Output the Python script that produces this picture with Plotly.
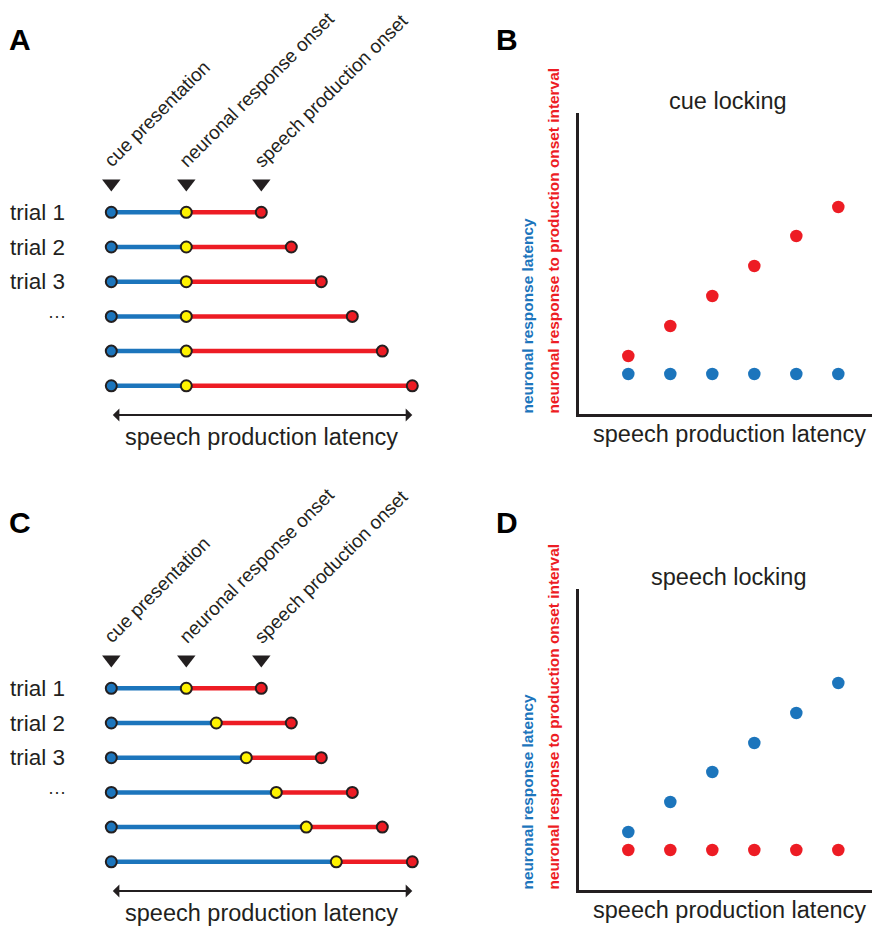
import plotly.graph_objects as go

# ---------------- data ----------------
trials = [1, 2, 3, 4, 5, 6]
trial_labels = ["trial 1", "trial 2", "trial 3", "..."]
cue_onset = [0, 0, 0, 0, 0, 0]
speech_onset = [150, 180, 210, 241, 271, 301]
neuron_onset_A = [75, 75, 75, 75, 75, 75]              # cue locking
neuron_onset_C = [75, 105, 135, 165, 195, 225]         # speech locking
event_names = ["cue presentation", "neuronal response onset", "speech production onset"]

latency_x = [150, 180, 210, 240, 270, 300]
B_latency = [4.0, 4.0, 4.0, 4.0, 4.0, 4.0]
B_interval = [5.8, 8.8, 11.8, 14.8, 17.8, 20.7]
D_latency = [5.8, 8.8, 11.8, 14.7, 17.7, 20.7]
D_interval = [4.0, 4.0, 4.0, 4.0, 4.0, 4.0]

# ---------------- style ----------------
W, H = 872, 928
BLUE = "#1c75bc"
RED = "#ed1c24"
YEL = "#fff200"
INK = "#231f20"
FONT = "Liberation Sans, Arial, Helvetica, sans-serif"


def fx(p):
    return p / W


def fy(p):
    return 1 - p / H


X0 = 111.3          # pixel of cue onset
ROW0 = 212.3        # pixel of trial 1
ROWSTEP = 34.7


def trow(pix):
    return 1 + (pix - ROW0) / ROWSTEP


fig = go.Figure()

panels = [("x", "y", neuron_onset_A, 0), ("x2", "y2", neuron_onset_C, 476)]
annotations = []

for xr, yr, neuron, off in panels:
    bx, by, rx, ry = [], [], [], []
    for t, c, n, s in zip(trials, cue_onset, neuron, speech_onset):
        bx += [c, n, None]
        by += [t, t, None]
        rx += [n, s, None]
        ry += [t, t, None]
    fig.add_trace(go.Scatter(x=bx, y=by, mode="lines", line=dict(color=BLUE, width=4.5),
                             xaxis=xr, yaxis=yr, hoverinfo="skip"))
    fig.add_trace(go.Scatter(x=rx, y=ry, mode="lines", line=dict(color=RED, width=4.5),
                             xaxis=xr, yaxis=yr, hoverinfo="skip"))
    for xs, col in [(cue_onset, BLUE), (neuron, YEL), (speech_onset, RED)]:
        fig.add_trace(go.Scatter(x=xs, y=trials, mode="markers",
                                 marker=dict(size=11, color=col, line=dict(color=INK, width=2)),
                                 xaxis=xr, yaxis=yr, hoverinfo="skip"))
    # event triangles (at trial 1 event times)
    ev = [cue_onset[0], neuron[0], speech_onset[0]]
    fig.add_trace(go.Scatter(x=ev, y=[trow(183.5)] * 3, mode="markers",
                             marker=dict(symbol="triangle-down", size=16, color=INK),
                             xaxis=xr, yaxis=yr, hoverinfo="skip"))
    # rotated event names
    for e, name in zip(ev, event_names):
        annotations.append(dict(x=e - 14, y=fy(174 + off), xref=xr, yref="paper",
                                text=name, textangle=-45, showarrow=False,
                                xanchor="left", yanchor="bottom",
                                font=dict(family=FONT, size=19, color=INK)))
    # trial labels
    for i, lab in enumerate(trial_labels):
        if lab == "...":
            annotations.append(dict(x=fx(57), y=trials[i], xref="paper", yref=yr,
                                    text="···", showarrow=False, xanchor="center",
                                    yanchor="middle",
                                    font=dict(family=FONT, size=18, color=INK)))
        else:
            annotations.append(dict(x=fx(8), y=trials[i], xref="paper", yref=yr,
                                    text=lab, showarrow=False, xanchor="left",
                                    yanchor="middle",
                                    font=dict(family=FONT, size=22.5, color=INK)))
    # double arrow for speech production latency
    ya = trow(415)
    annotations.append(dict(x=max(speech_onset), y=ya, ax=min(cue_onset), ay=ya,
                            xref=xr, yref=yr, axref=xr, ayref=yr, text="",
                            showarrow=True, arrowhead=1, startarrowhead=1,
                            arrowside="end+start", arrowwidth=2, arrowsize=1.1,
                            startarrowsize=1.1, arrowcolor=INK, standoff=0, startstandoff=0))
    annotations.append(dict(x=(max(speech_onset) + min(cue_onset)) / 2, y=trow(437),
                            xref=xr, yref=yr, text="speech production latency",
                            showarrow=False, xanchor="center", yanchor="middle",
                            font=dict(family=FONT, size=23.5, color=INK)))

# scatter panels B and D
for xr, yr, lat, itv, off, title in [("x3", "y3", B_latency, B_interval, 0, "cue locking"),
                                      ("x4", "y4", D_latency, D_interval, 476, "speech locking")]:
    fig.add_trace(go.Scatter(x=latency_x, y=lat, mode="markers",
                             marker=dict(size=12.5, color=BLUE), xaxis=xr, yaxis=yr,
                             hoverinfo="skip"))
    fig.add_trace(go.Scatter(x=latency_x, y=itv, mode="markers",
                             marker=dict(size=12.5, color=RED), xaxis=xr, yaxis=yr,
                             hoverinfo="skip"))
    annotations.append(dict(x=fx(728), y=fy(101 + off), xref="paper", yref="paper",
                            text=title, showarrow=False, xanchor="center", yanchor="middle",
                            font=dict(family=FONT, size=23.5, color=INK)))
    annotations.append(dict(x=fx(729), y=fy(434 + off), xref="paper", yref="paper",
                            text="speech production latency", showarrow=False,
                            xanchor="center", yanchor="middle",
                            font=dict(family=FONT, size=23.5, color=INK)))
    annotations.append(dict(x=fx(527), y=fy(416 + off), xref="paper", yref="paper",
                            text="<b>neuronal response latency</b>", textangle=-90,
                            showarrow=False, xanchor="center", yanchor="bottom",
                            font=dict(family=FONT, size=15.4, color=BLUE)))
    annotations.append(dict(x=fx(553), y=fy(416 + off), xref="paper", yref="paper",
                            text="<b>neuronal response to production onset interval</b>",
                            textangle=-90, showarrow=False, xanchor="center",
                            yanchor="bottom", font=dict(family=FONT, size=15.4, color=RED)))

# panel letters
for lab, x, y in [("A", 20, 39), ("B", 507, 39), ("C", 20, 522), ("D", 507, 522)]:
    annotations.append(dict(x=fx(x), y=fy(y), xref="paper", yref="paper",
                            text="<b>" + lab + "</b>", showarrow=False, xanchor="center",
                            yanchor="middle", font=dict(family=FONT, size=30, color="#000")))

hidden = dict(visible=False, showgrid=False, zeroline=False, fixedrange=True)
xA_range = [-X0, 440 - X0]
yA_range = [trow(450), trow(150)]

axline = dict(showline=True, linecolor=INK, linewidth=2.5, showgrid=False, zeroline=False,
              showticklabels=False, ticks="", fixedrange=True)

sx_range = [150 - (628.3 - 579) / 1.4, 150 + (872 - 628.3) / 1.4]

fig.update_layout(
    width=W, height=H, margin=dict(l=0, r=0, t=0, b=0),
    paper_bgcolor="white", plot_bgcolor="white", showlegend=False,
    xaxis=dict(domain=[0, fx(440)], range=xA_range, anchor="y", **hidden),
    yaxis=dict(domain=[fy(450), fy(150)], range=yA_range, anchor="x", **hidden),
    xaxis2=dict(domain=[0, fx(440)], range=xA_range, anchor="y2", **hidden),
    yaxis2=dict(domain=[fy(926), fy(626)], range=yA_range, anchor="x2", **hidden),
    xaxis3=dict(domain=[fx(579), 1], range=sx_range, anchor="y3", **axline),
    yaxis3=dict(domain=[fy(414), fy(113)], range=[0, 30.1], anchor="x3", **axline),
    xaxis4=dict(domain=[fx(579), 1], range=sx_range, anchor="y4", **axline),
    yaxis4=dict(domain=[fy(890), fy(589)], range=[0, 30.1], anchor="x4", **axline),
    annotations=annotations,
)

fig.write_html("out.html")
